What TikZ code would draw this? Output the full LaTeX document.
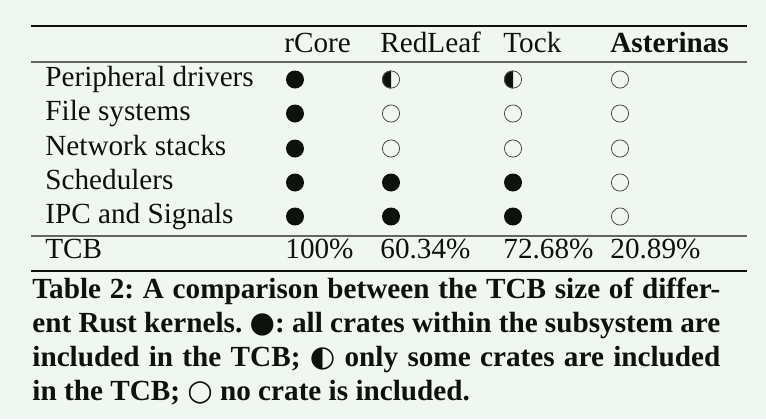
\documentclass[tikz,border=0pt]{standalone}
\usepackage{fontspec}
\setmainfont{Liberation Serif}
\newfontfamily\symfont{DejaVu Sans}

\definecolor{pagebg}{RGB}{240,246,240}
\definecolor{inkc}{RGB}{14,18,14}

% crate marks: full, half, empty (x, baseline)
\newcommand{\cratef}[2]{\fill[inkc] (#1,#2-6.5) circle (9);}
\newcommand{\cratee}[2]{\draw[cratec] (#1,#2-6.5) circle (8.6);}
\newcommand{\crateh}[2]{\fill[inkc] (#1,#2+2.5) arc[start angle=90,end angle=270,radius=9] -- cycle;
  \draw[cratec] (#1,#2-6.5) circle (8.6);}

\begin{document}
\frenchspacing
\begin{tikzpicture}[x=0.5pt,y=0.5pt,yscale=-1,xscale=1,
  every node/.style={text=inkc,inner sep=0pt,font=\fontsize{14.6}{17}\selectfont},
  heavyrule/.style={draw=inkc,line width=0.7pt},
  lightrule/.style={draw=inkc!65,line width=0.55pt},
  cratec/.style={draw=inkc!75,line width=0.4pt}]
\fill[pagebg] (0,0) rectangle (766,419);

%Rules
\draw[heavyrule] (31,26) -- (747,26);
\draw[lightrule] (31,62) -- (747,62);
\draw[lightrule] (31,236) -- (747,236);
\draw[heavyrule] (31,271) -- (747,271);

% Header
\node (hRCore) [anchor=base west] at (284,52) {rCore};
\node (hRedLeaf) [anchor=base west] at (380,52) {RedLeaf};
\node (hTock) [anchor=base west] at (503,52) {Tock};
\node (hAsterinas) [anchor=base west] at (610,52) {\bfseries Asterinas};

% Subsystem rows
\foreach \y/\name/\a/\b/\c/\d [count=\i] in {86/Peripheral drivers/f/h/h/e,
    120/File systems/f/e/e/e, 155/Network stacks/f/e/e/e,
    189/Schedulers/f/f/f/e, 223/IPC and Signals/f/f/f/e} {
  \node (row\i) [anchor=base west] at (45,\y) {\name};
  \csname crate\a\endcsname{295}{\y}
  \csname crate\b\endcsname{391}{\y}
  \csname crate\c\endcsname{513}{\y}
  \csname crate\d\endcsname{620}{\y}
}

% TCB row
\node (rowTCB) [anchor=base west] at (45,258) {TCB};
\node (tRCore) [anchor=base west] at (285,258) {100\%};
\node (tRedLeaf) [anchor=base west] at (380,258) {60.34\%};
\node (tTock) [anchor=base west] at (503,258) {72.68\%};
\node (tAsterinas) [anchor=base west] at (610,258) {20.89\%};

% Caption
\node (caption) [anchor=base west,text width=344pt,align=justify] at (32,298)
  {\bfseries Table 2: A comparison between the TCB size of differ-\linebreak
   ent Rust kernels. {\symfont ●}: all crates within the subsystem are\linebreak
   included in the TCB; {\symfont ◐} only some crates are included\linebreak
   in the TCB; {\symfont ○} no crate is included.};

\end{tikzpicture}
\end{document}
